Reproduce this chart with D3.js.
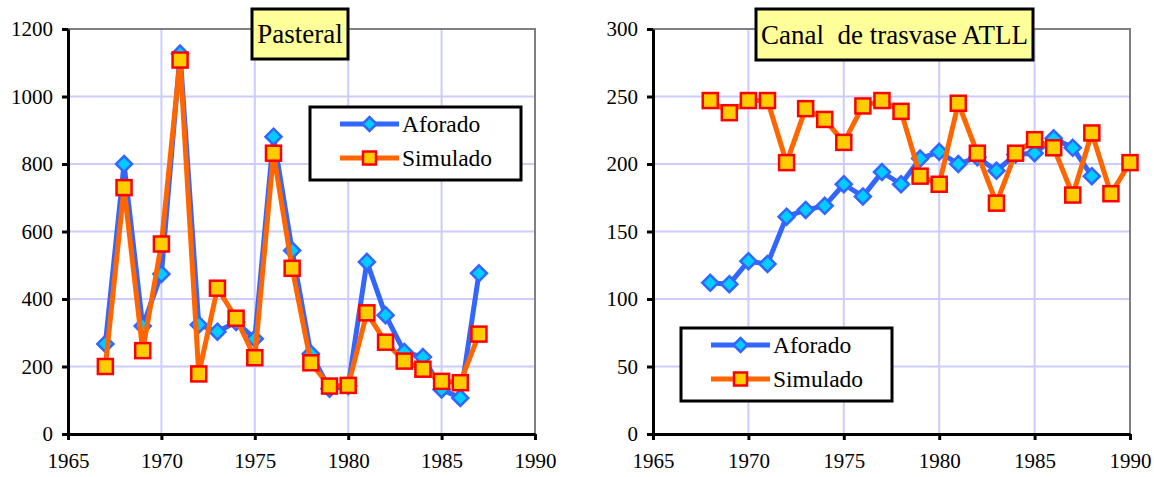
<!DOCTYPE html>
<html><head><meta charset="utf-8">
<script src="https://cdn.jsdelivr.net/npm/d3@7"></script>
<style>
body{margin:0;background:#fff;}
svg{display:block;font-family:"Liberation Serif","Times New Roman",serif;}
text{white-space:pre;}
</style></head>
<body><svg id="c" width="1154" height="477"></svg>
<script>
// Pasteral
const pastYears = [1967,1968,1969,1970,1971,1972,1973,1974,1975,1976,1977,1978,1979,1980,1981,1982,1983,1984,1985,1986,1987];
const pastAforado = [267,800,320,474,1127,324,303,332,282,881,544,238,134,142,510,352,243,228,132,107,476];
const pastSimulado = [200,730,247,563,1108,178,432,343,226,832,491,211,142,144,359,272,216,192,156,152,296];
// Canal de trasvase ATLL
const atllAforYears = [1968,1969,1970,1971,1972,1973,1974,1975,1976,1977,1978,1979,1980,1981,1982,1983,1984,1985,1986,1987,1988];
const atllAforado = [112,111,128,126,161,166,169,185,176,194,185,204,209,200,205,195,207,208,219,212,191];
const atllSimYears = [1968,1969,1970,1971,1972,1973,1974,1975,1976,1977,1978,1979,1980,1981,1982,1983,1984,1985,1986,1987,1988,1989,1990];
const atllSimulado = [247,238,247,247,201,241,233,216,243,247,239,191,185,245,208,171,208,218,212,177,223,178,201];
const xTicks = [1965,1970,1975,1980,1985,1990];
const pastYTicks = [0,200,400,600,800,1000,1200];
const atllYTicks = [0,50,100,150,200,250,300];

const svg = d3.select("#c");
const FONT = "'Liberation Serif', 'Times New Roman', serif";

function panel(cfg){
  const g = svg.append("g");
  const x = d3.scaleLinear().domain([1965,1990]).range([cfg.x0,cfg.x1]);
  const y = d3.scaleLinear().domain([0,cfg.ymax]).range([434,29]);
  // grid
  g.selectAll(".gv").data(xTicks.slice(1,-1)).join("line")
    .attr("x1",d=>x(d)).attr("x2",d=>x(d)).attr("y1",y(0)).attr("y2",y(cfg.ymax))
    .attr("stroke","#ccccff").attr("stroke-width",2);
  g.selectAll(".gh").data(cfg.yTicks.slice(1,-1)).join("line")
    .attr("x1",x(1965)).attr("x2",x(1990)).attr("y1",d=>y(d)).attr("y2",d=>y(d))
    .attr("stroke","#ccccff").attr("stroke-width",2);
  // top/right border
  g.append("path").attr("d",`M${x(1965)},${y(cfg.ymax)}H${x(1990)}V${y(0)}`)
    .attr("fill","none").attr("stroke","#808080").attr("stroke-width",2);
  // axes
  const ya = g.append("g").attr("transform",`translate(${x(1965)},0)`)
    .call(d3.axisLeft(y).tickValues(cfg.yTicks).tickFormat(d3.format("d")).tickSize(6).tickPadding(9).tickSizeOuter(0));
  const xa = g.append("g").attr("transform",`translate(0,${y(0)})`)
    .call(d3.axisBottom(x).tickValues(xTicks).tickFormat(d3.format("d")).tickSize(6).tickPadding(13).tickSizeOuter(0));
  [ya,xa].forEach(a=>{
    a.attr("font-family",FONT).attr("font-size",21);
    a.select(".domain").attr("stroke","#000").attr("stroke-width",3);
    a.selectAll(".tick line").attr("stroke","#000").attr("stroke-width",3);
    a.selectAll(".tick text").attr("fill","#000").attr("font-family",FONT).attr("font-size",21);
  });
  // series
  const line = d3.line().x(d=>x(d[0])).y(d=>y(d[1]));
  const s1 = d3.zip(cfg.aYears,cfg.aVals), s2 = d3.zip(cfg.sYears,cfg.sVals);
  g.append("path").attr("d",line(s1)).attr("fill","none").attr("stroke","#3366ff").attr("stroke-width",5).attr("stroke-linejoin","round");
  g.selectAll(".dia").data(s1).join("path")
    .attr("d",d=>`M${x(d[0])},${y(d[1])-8}l8,8l-8,8l-8,-8z`)
    .attr("fill","#00ccff").attr("stroke","#3366ff").attr("stroke-width",2.5);
  g.append("path").attr("d",line(s2)).attr("fill","none").attr("stroke","#ff6600").attr("stroke-width",5).attr("stroke-linejoin","round");
  g.selectAll(".sq").data(s2).join("rect")
    .attr("x",d=>x(d[0])-7.5).attr("y",d=>y(d[1])-7.5).attr("width",15).attr("height",15)
    .attr("fill","#ffcc00").attr("stroke","#ff0000").attr("stroke-width",2.5);
  // title
  const t = cfg.title;
  g.append("rect").attr("x",t.x).attr("y",t.y).attr("width",t.w).attr("height",t.h)
    .attr("fill","#ffff99").attr("stroke","#000").attr("stroke-width",3);
  g.append("text").attr("x",t.x+t.w/2).attr("y",t.y+t.h/2+9).attr("text-anchor","middle")
    .attr("font-family",FONT).attr("font-size",27).text(t.text);
  // legend
  const L = cfg.legend;
  g.append("rect").attr("x",L.x).attr("y",L.y).attr("width",L.w).attr("height",L.h)
    .attr("fill","#fff").attr("stroke","#000").attr("stroke-width",3);
  const items = [{n:"Aforado",c:"#3366ff",f:"#00ccff",s:"#3366ff",m:"d"},{n:"Simulado",c:"#ff6600",f:"#ffcc00",s:"#ff0000",m:"s"}];
  items.forEach((it,i)=>{
    const cy = L.y + 17 + i*34, lx = L.x + 30;
    g.append("line").attr("x1",lx).attr("x2",lx+59).attr("y1",cy).attr("y2",cy).attr("stroke",it.c).attr("stroke-width",5);
    if(it.m==="d") g.append("path").attr("d",`M${lx+29.5},${cy-7}l7,7l-7,7l-7,-7z`).attr("fill",it.f).attr("stroke",it.s).attr("stroke-width",2.5);
    else g.append("rect").attr("x",lx+29.5-6.5).attr("y",cy-6.5).attr("width",13).attr("height",13).attr("fill",it.f).attr("stroke",it.s).attr("stroke-width",2.5);
    g.append("text").attr("x",lx+62).attr("y",cy+8).attr("font-family",FONT).attr("font-size",23.5).text(it.n);
  });
}

panel({x0:68,x1:535,ymax:1200,yTicks:pastYTicks,aYears:pastYears,aVals:pastAforado,sYears:pastYears,sVals:pastSimulado,
  title:{x:252,y:9,w:96,h:50,text:"Pasteral"},legend:{x:310,y:107,w:211,h:73}});
panel({x0:653,x1:1130,ymax:300,yTicks:atllYTicks,aYears:atllAforYears,aVals:atllAforado,sYears:atllSimYears,sVals:atllSimulado,
  title:{x:756,y:9,w:277,h:51,text:"Canal  de trasvase ATLL"},legend:{x:681,y:328,w:211,h:73}});
</script></body></html>
